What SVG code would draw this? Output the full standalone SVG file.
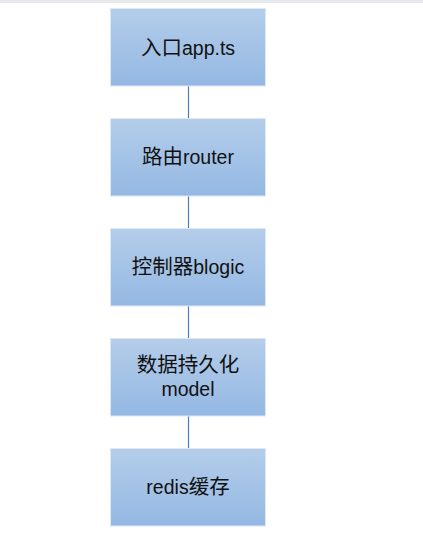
<svg xmlns="http://www.w3.org/2000/svg" width="423" height="558" viewBox="0 0 423 558">
<style>
.box{fill:url(#g);stroke:#dce8f5;stroke-width:1}
.t{font-family:"Liberation Sans","Noto Sans CJK SC",sans-serif;font-size:19.5px;fill:#111;text-anchor:middle}
.cj{font-size:20.5px}
.c{stroke:#4a7ebb;stroke-width:1.2;fill:none}
</style>
<defs>
<linearGradient id="g" x1="0" y1="0" x2="0" y2="1">
<stop offset="0" stop-color="#b4cdea"/>
<stop offset="1" stop-color="#94b8e3"/>
</linearGradient>
</defs>
<rect x="0" y="0" width="423" height="3" fill="#e8e9ec"/>
<g id="connectors">
<line class="c" x1="188.5" y1="86" x2="188.5" y2="119"/>
<line class="c" x1="188.5" y1="196" x2="188.5" y2="229"/>
<line class="c" x1="188.5" y1="306" x2="188.5" y2="339"/>
<line class="c" x1="188.5" y1="416" x2="188.5" y2="449"/>
</g>
<g id="n1"><rect class="box" x="110.5" y="8.5" width="155" height="77.5"/><text class="t" x="188" y="55"><tspan class="cj">入口</tspan>app.ts</text></g>
<g id="n2"><rect class="box" x="110.5" y="118.5" width="155" height="77.5"/><text class="t" x="188" y="164"><tspan class="cj">路由</tspan>router</text></g>
<g id="n3"><rect class="box" x="110.5" y="228.5" width="155" height="77.5"/><text class="t" x="188" y="274"><tspan class="cj">控制器</tspan>blogic</text></g>
<g id="n4"><rect class="box" x="110.5" y="338.5" width="155" height="77.5"/><text class="t cj" x="188" y="372">数据持久化</text><text class="t" x="188" y="396">model</text></g>
<g id="n5"><rect class="box" x="110.5" y="448.5" width="155" height="77.5"/><text class="t" x="188" y="494">redis<tspan class="cj">缓存</tspan></text></g>
</svg>
